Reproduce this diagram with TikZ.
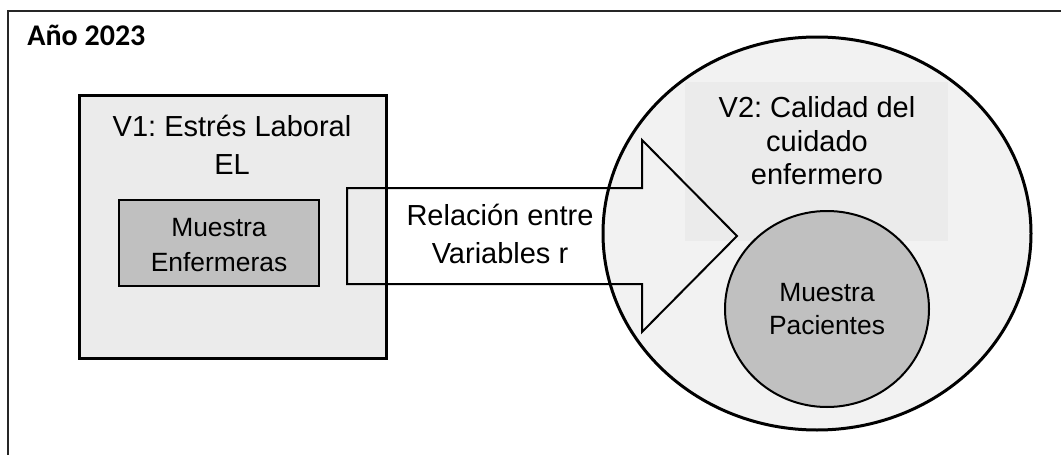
\documentclass[tikz,border=0pt]{standalone}
\usepackage{fontspec}
\setmainfont{Liberation Sans}
\newfontfamily\yearfont{Carlito}
\usepackage{tikz}
\usetikzlibrary{positioning, shapes, shapes.geometric, calc}
\definecolor{boxgray}{HTML}{EBEBEB}
\definecolor{samplegray}{HTML}{C0C0C0}
\definecolor{ovalgray}{HTML}{F2F2F2}
\frenchspacing
\tikzset{
    vartext/.style={font=\fontsize{14.5}{19}\selectfont, align=center, inner sep=0pt},
    sampletext/.style={font=\fontsize{13.2}{17.3}\selectfont, align=center, inner sep=0pt},
    varbox/.style={rectangle, draw=black, line width=1.5pt, fill=boxgray},
    samplebox/.style={rectangle, draw=black, line width=1pt, fill=samplegray, sampletext},
    varoval/.style={ellipse, draw=black, line width=1.5pt, fill=ovalgray},
    labelbg/.style={rectangle, fill=boxgray, draw=none},
    sampleoval/.style={ellipse, draw=black, line width=1pt, fill=samplegray, sampletext},
    bigarrow/.style={draw=black, line width=1pt, line join=miter},
}

\begin{document}
\begin{tikzpicture}[x=0.5pt, y=-0.5pt]
    \useasboundingbox (0,0) rectangle (1061,455);
    \clip (0,0) rectangle (1061,455);
    % frame and year
    \draw[line width=0.6pt, black!85] (8,11) rectangle (1080,480);
    \node[anchor=base west, inner sep=0pt, font=\yearfont\bfseries\fontsize{15}{18}\selectfont] (year) at (27,46) {Año 2023};
    % variable 1
    \node[varbox, minimum width=153.5pt, minimum height=131.5pt] (v1) at (232.5,226.5) {};
    \node[vartext] (v1txt) at (232,145) {V1: Estrés Laboral\\EL};
    \node[samplebox, minimum width=100pt, minimum height=43pt] (nurses) at (219,243) {};
    \node[sampletext] (nursestxt) at (219,245) {Muestra\\Enfermeras};
    % variable 2
    \node[varoval, minimum width=214pt, minimum height=196.5pt, inner sep=0pt] (v2) at (817,233.5) {};
    \node[labelbg, minimum width=131.5pt, minimum height=79.5pt] (v2bg) at (816.5,161.5) {};
    \node[sampleoval, minimum width=102pt, minimum height=98pt, font=\fontsize{13.2}{16.7}\selectfont] (patients) at (827,309) {Muestra\\Pacientes};
    \node[vartext, font=\fontsize{14.5}{16.7}\selectfont] (v2txt) at (817,141) {V2: Calidad del\\cuidado\\enfermero};
    % relation arrow
    \node[vartext] (rel) at (500,234) {Relación entre\\Variables r};
    \coordinate (tip) at (737,236);
    \draw[bigarrow] (347,188) -- (642,188) -- (642,140) -- (tip) -- (642,332) -- (642,284) -- (347,284) -- cycle;
\end{tikzpicture}
\end{document}
